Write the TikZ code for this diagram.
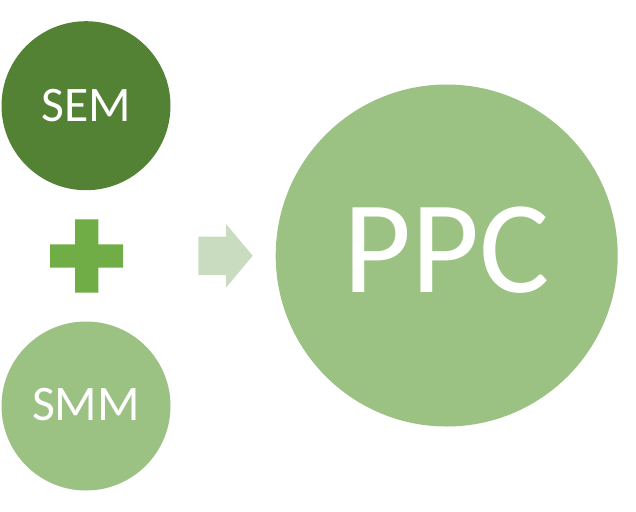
\documentclass[tikz,border=0pt]{standalone}
\usepackage{fontspec}
\setmainfont{Carlito}
\usepackage{tikz}
\usetikzlibrary{shapes,arrows}

\definecolor{darkgreen}{RGB}{84,130,53}
\definecolor{lightgreen}{RGB}{155,194,131}
\definecolor{plusgreen}{RGB}{112,173,71}
\definecolor{arrowgreen}{RGB}{201,220,192}

\tikzset{
  bubble/.style={circle,inner sep=0pt,text=white,draw=none},
}

\begin{document}
\begin{tikzpicture}[x=1pt,y=-1pt]
\useasboundingbox (0,0) rectangle (636,511);

\node[bubble,fill=darkgreen,minimum size=169pt,font=\fontsize{49.7}{50}\selectfont] (sem) at (86,105.7) {SEM};
\node[bubble,fill=lightgreen,minimum size=169pt,text depth=3pt,font=\fontsize{49.7}{50}\selectfont] (smm) at (86,406) {SMM};
\node[bubble,fill=lightgreen,minimum size=342pt,text depth=12pt,font=\fontsize{132}{132}\selectfont] (ppc) at (446.7,255.5) {PPC};

% plus
\fill[plusgreen]
  (75,219.3) -- (98.3,219.3) -- (98.3,244.3) -- (123,244.3) -- (123,267.7)
  -- (98.3,267.7) -- (98.3,292.7) -- (75,292.7) -- (75,267.7) -- (50,267.7)
  -- (50,244.3) -- (75,244.3) -- cycle;

% arrow
\fill[arrowgreen]
  (198.3,236.7) -- (226,236.7) -- (226,224) -- (252.7,255.7) -- (226,287.7)
  -- (226,275) -- (198.3,275) -- cycle;

\end{tikzpicture}
\end{document}
